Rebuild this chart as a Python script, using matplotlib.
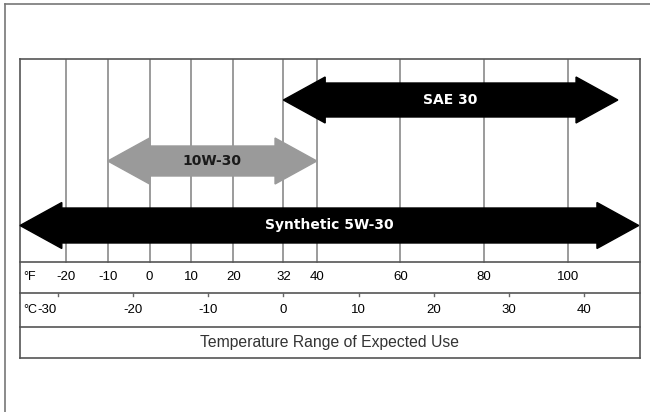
import matplotlib
matplotlib.use("Agg")
import matplotlib.pyplot as plt
from matplotlib.lines import Line2D

# Oil grades and the temperature span (deg F) each one covers
grades = ["SAE 30", "10W-30", "Synthetic 5W-30"]
range_lo_f = [32, -10, -31]
range_hi_f = [112, 40, 117]
arrow_colors = ["black", "#9a9a9a", "black"]
text_colors = ["white", "#1a1a1a", "white"]

# Temperature scale ticks
f_ticks = [-20, -10, 0, 10, 20, 32, 40, 60, 80, 100]
c_ticks = [-30, -20, -10, 0, 10, 20, 30, 40]
title = "Temperature Range of Expected Use"

# layout (y in pixel-ish units from the top of the box)
lane_y = [41, 102, 166.5]
shaft_half = [17, 15, 17.5]
HEAD_HALF = 23
HEAD_LEN = 10  # in deg F
GRID_BOTTOM, F_ROW_BOTTOM, C_ROW_BOTTOM, BOX_BOTTOM = 203, 234, 268, 299
XMIN, XMAX = -31, 117.3

plt.rcParams["font.family"] = ["Liberation Sans", "DejaVu Sans"]

fig = plt.figure(figsize=(6.5, 4.12), dpi=100)
ax = fig.add_axes([20 / 650, 1 - 358 / 412, 620 / 650, 299 / 412])
ax.set_xlim(XMIN, XMAX)
ax.set_ylim(BOX_BOTTOM, 0)
ax.axis("off")

# outer frame (only top and left edges fall inside the picture)
fig.add_artist(Line2D([5 / 650, 5 / 650], [0, 1 - 4 / 412], transform=fig.transFigure,
                      color="#777777", lw=1.2))
fig.add_artist(Line2D([5 / 650, 1], [1 - 4 / 412, 1 - 4 / 412], transform=fig.transFigure,
                      color="#777777", lw=1.2))

# grid lines at the Fahrenheit ticks
for f in f_ticks:
    ax.plot([f, f], [0, GRID_BOTTOM], color="#8a8a8a", lw=1.2, zorder=1)

# box and row separators
box_kw = dict(color="#555555", lw=1.2, clip_on=False, zorder=2)
for yy in [0, GRID_BOTTOM, F_ROW_BOTTOM, C_ROW_BOTTOM, BOX_BOTTOM]:
    ax.plot([XMIN, XMAX], [yy, yy], **box_kw)
ax.plot([XMIN, XMIN], [0, BOX_BOTTOM], **box_kw)
ax.plot([XMAX, XMAX], [0, BOX_BOTTOM], **box_kw)

# double-headed arrows
for name, lo, hi, yc, sh, col, tcol in zip(grades, range_lo_f, range_hi_f, lane_y,
                                           shaft_half, arrow_colors, text_colors):
    xs = [lo, lo + HEAD_LEN, lo + HEAD_LEN, hi - HEAD_LEN, hi - HEAD_LEN, hi,
          hi - HEAD_LEN, hi - HEAD_LEN, lo + HEAD_LEN, lo + HEAD_LEN]
    ys = [yc, yc - HEAD_HALF, yc - sh, yc - sh, yc - HEAD_HALF, yc,
          yc + HEAD_HALF, yc + sh, yc + sh, yc + HEAD_HALF]
    ax.fill(xs, ys, color=col, zorder=3, clip_on=False)
    ax.text((lo + hi) / 2, yc, name, ha="center", va="center", color=tcol,
            fontsize=10, fontweight="bold", family=["DejaVu Sans"], zorder=4)

# Fahrenheit row
f_row_y = (GRID_BOTTOM + F_ROW_BOTTOM) / 2
ax.text(0.005, f_row_y, "°F", transform=ax.get_yaxis_transform(), ha="left",
        va="center", fontsize=9)
for f in f_ticks:
    ax.text(f, f_row_y, str(f), ha="center", va="center", fontsize=9.5)

# Celsius row
c_row_y = (F_ROW_BOTTOM + C_ROW_BOTTOM) / 2
ax.text(0.005, c_row_y, "°C", transform=ax.get_yaxis_transform(), ha="left",
        va="center", fontsize=9)
for i, c in enumerate(c_ticks):
    pos = c * 9 / 5 + 32
    ax.plot([pos, pos], [F_ROW_BOTTOM, F_ROW_BOTTOM + 3], color="#666666", lw=1, zorder=2)
    dx = -8 if i == 0 else 0
    ax.annotate(str(c), xy=(pos, c_row_y), xytext=(dx, 0), textcoords="offset points",
                ha="center", va="center", fontsize=9.5)

# caption row
ax.text(0.5, (C_ROW_BOTTOM + BOX_BOTTOM) / 2, title, transform=ax.get_yaxis_transform(),
        ha="center", va="center", fontsize=11.3, color="#333333")

fig.savefig("out.png", dpi=100)
